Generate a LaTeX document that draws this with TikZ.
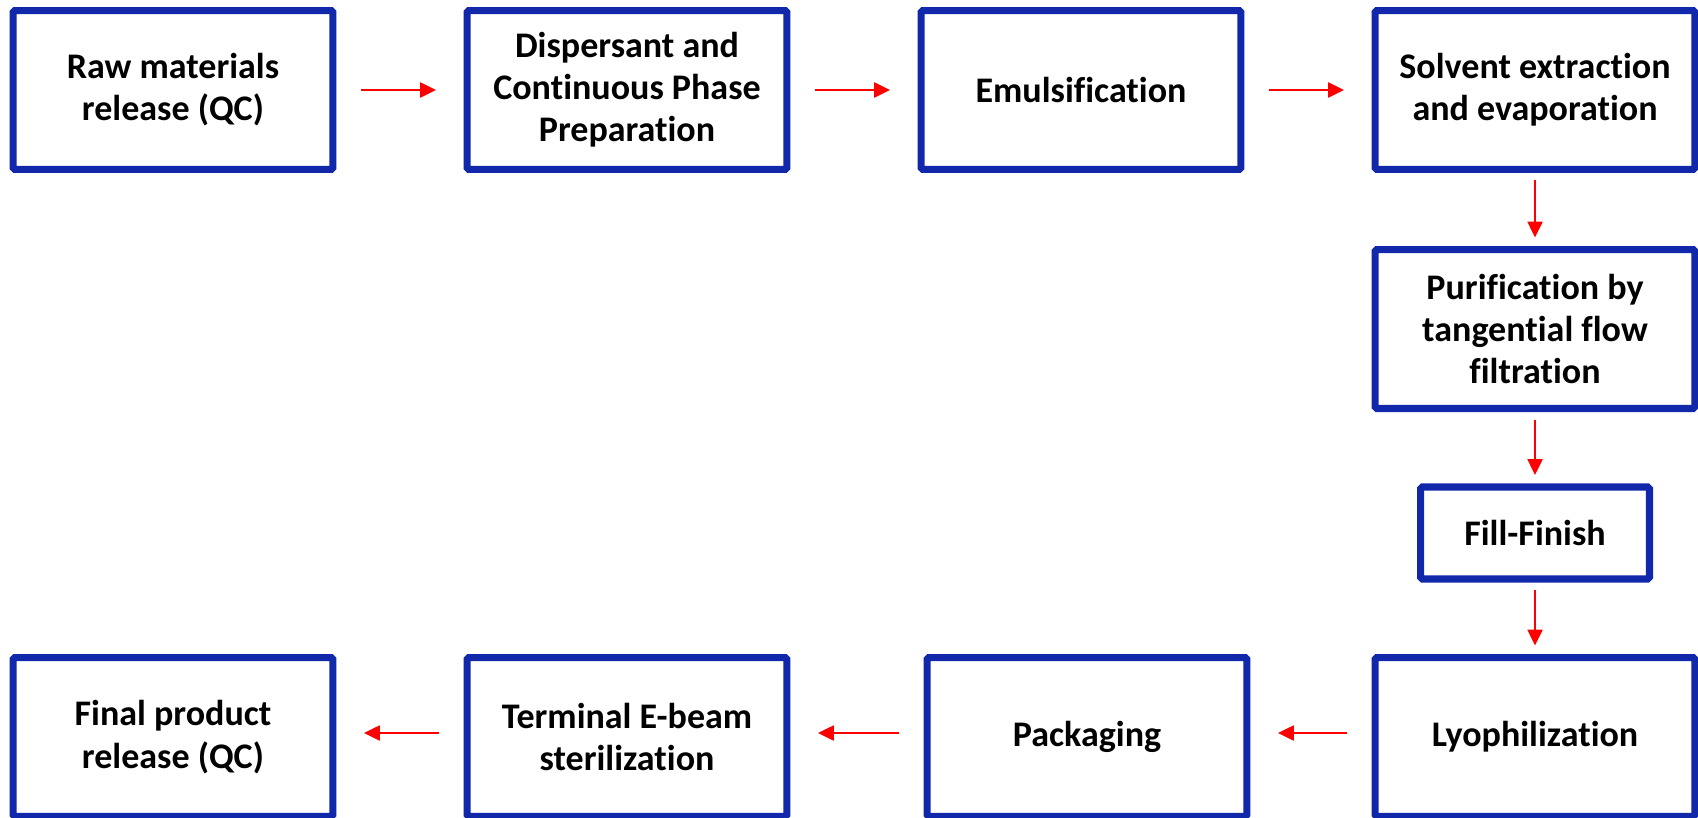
\documentclass[tikz,border=0pt]{standalone}
\usepackage{fontspec}
\setmainfont{Carlito}[Ligatures=NoCommon]
\usetikzlibrary{arrows.meta}
\definecolor{boxblue}{RGB}{17,40,170}
\definecolor{arrowred}{RGB}{255,0,0}
\begin{document}
\begin{tikzpicture}[x=0.02cm, y=-0.02cm,
  stage/.style={draw=boxblue, line width=4pt, fill=white, rounded corners=1pt,
    align=center, inner sep=0pt, minimum width=6.4cm, minimum height=3.18cm,
    font=\fontsize{20.5}{24}\selectfont\bfseries},
  flow/.style={draw=arrowred, line width=1.2pt, -{Triangle[length=9pt,width=8.5pt]},
    shorten <=0.5cm, shorten >=0.55cm},
  down/.style={flow, shorten <=0.15cm, shorten >=0.17cm}]
  \useasboundingbox (0,0) rectangle (1698,818);
  \clip (0,0) rectangle (1698,818);

  % Top row
  \node[stage] (raw) at (173,90) {Raw materials\\release (QC)};
  \node[stage] (disp) at (627,90) {Dispersant and\\Continuous Phase\\Preparation};
  \node[stage] (emul) at (1081,90) {Emulsification};
  \node[stage] (solv) at (1535,90) {Solvent extraction\\and evaporation};

  % Right column
  \node[stage] (purif) at (1535,329) {Purification by\\tangential flow\\filtration};
  \node[stage, minimum width=4.58cm, minimum height=1.84cm] (fill) at (1535,533) {Fill-Finish};

  % Bottom row
  \node[stage] (lyo) at (1535,737) {Lyophilization};
  \node[stage] (pack) at (1087,737) {Packaging};
  \node[stage] (ster) at (627,737) {Terminal E-beam\\sterilization};
  \node[stage] (final) at (173,737) {Final product\\release (QC)};

  % Arrows
  \draw[flow] (raw) -- (disp);
  \draw[flow] (disp) -- (emul);
  \draw[flow] (emul) -- (solv);
  \draw[down] (solv) -- (purif);
  \draw[down] (purif) -- (fill);
  \draw[down] (fill) -- (lyo);
  \draw[flow] ([yshift=0.08cm]lyo.west) -- ([yshift=0.08cm]pack.east);
  \draw[flow] ([yshift=0.08cm]pack.west) -- ([yshift=0.08cm]ster.east);
  \draw[flow] ([yshift=0.08cm]ster.west) -- ([yshift=0.08cm]final.east);
\end{tikzpicture}
\end{document}
